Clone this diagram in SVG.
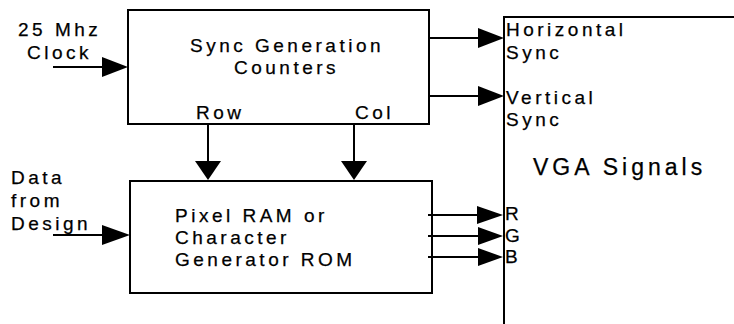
<svg xmlns="http://www.w3.org/2000/svg" width="734" height="324" viewBox="0 0 734 324">
<style>
  .box { fill: none; stroke: #000; stroke-width: 2; }
  .wire { fill: none; stroke: #000; stroke-width: 2; }
  .head { fill: #000; stroke: none; }
  .t { font-family: "Liberation Sans", Arial, sans-serif; font-size: 19px; letter-spacing: 3.5px; fill: #000; stroke: #000; stroke-width: 0.25; }
  .big { font-family: "Liberation Sans", Arial, sans-serif; font-size: 23px; letter-spacing: 4px; fill: #000; stroke: #000; stroke-width: 0.25; }
  .pin { font-family: "Liberation Sans", Arial, sans-serif; font-size: 19px; fill: #000; stroke: #000; stroke-width: 0.25; }
</style>
<rect width="734" height="324" fill="#fff"/>

<g id="clock-label">
  <text class="t" x="18" y="36">25 Mhz</text>
  <text class="t" x="27" y="59">Clock</text>
</g>

<g id="data-label">
  <text class="t" x="11" y="184">Data</text>
  <text class="t" x="11" y="207">from</text>
  <text class="t" x="11" y="230">Design</text>
</g>

<g id="sync-gen">
  <rect class="box" x="128" y="10" width="301" height="114"/>
  <text class="t" x="190" y="52">Sync Generation</text>
  <text class="t" x="234" y="74">Counters</text>
  <text class="t" x="196" y="119">Row</text>
  <text class="t" x="355" y="119">Col</text>
</g>

<g id="pixel-ram">
  <rect class="box" x="130" y="181" width="302" height="112"/>
  <text class="t" x="175" y="222">Pixel RAM or</text>
  <text class="t" x="175" y="244">Character</text>
  <text class="t" x="175" y="266">Generator ROM</text>
</g>

<g id="vga-signals">
  <path class="box" d="M504,324 V17 H734"/>
  <text class="t" x="506" y="36">Horizontal</text>
  <text class="t" x="506" y="59">Sync</text>
  <text class="t" x="506" y="104">Vertical</text>
  <text class="t" x="506" y="126">Sync</text>
  <text class="big" x="533" y="175">VGA Signals</text>
  <text class="pin" x="505" y="220">R</text>
  <text class="pin" x="505" y="242">G</text>
  <text class="pin" x="505" y="263">B</text>
</g>

<g id="connectors">
  <line class="wire" x1="53" y1="67" x2="104" y2="67"/>
  <polygon class="head" points="102,57 128,67 102,77"/>

  <line class="wire" x1="53" y1="235" x2="104" y2="235"/>
  <polygon class="head" points="102,225 130,235 102,245"/>

  <line class="wire" x1="429" y1="38" x2="480" y2="38"/>
  <polygon class="head" points="478,28 504,38 478,48"/>

  <line class="wire" x1="429" y1="96" x2="480" y2="96"/>
  <polygon class="head" points="478,86 504,96 478,106"/>

  <line class="wire" x1="208" y1="124" x2="208" y2="163"/>
  <polygon class="head" points="195,161 221,161 208,180"/>

  <line class="wire" x1="354" y1="124" x2="354" y2="163"/>
  <polygon class="head" points="341,161 367,161 354,180"/>

  <line class="wire" x1="428" y1="215" x2="479" y2="215"/>
  <polygon class="head" points="477,206 503,215 477,224"/>

  <line class="wire" x1="428" y1="236" x2="480" y2="236"/>
  <polygon class="head" points="478,227 503,236 478,245"/>

  <line class="wire" x1="428" y1="257" x2="480" y2="257"/>
  <polygon class="head" points="478,248 503,257 478,266"/>
</g>
</svg>
